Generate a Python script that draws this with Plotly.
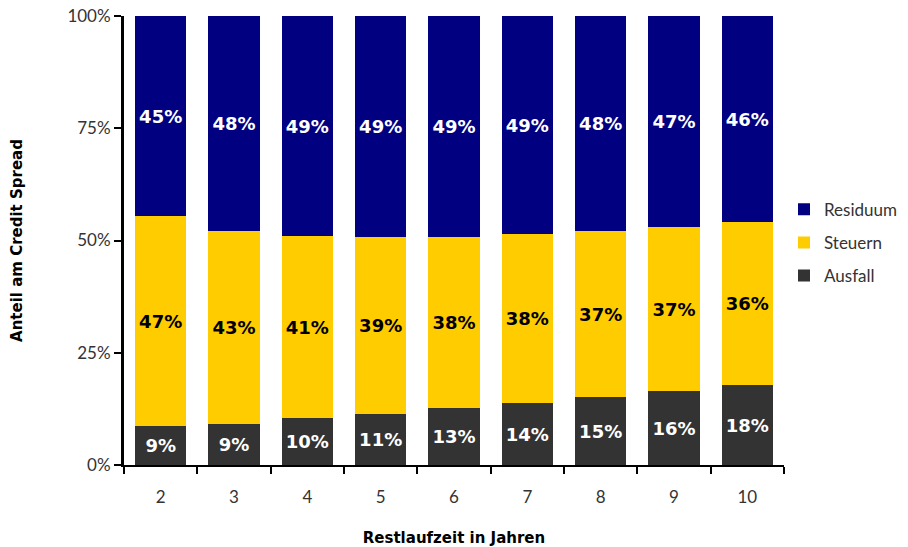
import plotly.graph_objects as go

categories = ["2", "3", "4", "5", "6", "7", "8", "9", "10"]
ausfall = [8.6, 9.2, 10.4, 11.4, 12.7, 13.8, 15.1, 16.4, 17.8]
steuern = [46.8, 42.9, 40.6, 39.4, 38.1, 37.6, 37.0, 36.6, 36.3]
residuum = [44.6, 47.9, 49.0, 49.2, 49.2, 48.6, 47.9, 47.0, 45.9]
y_ticks = [0, 25, 50, 75, 100]
y_tick_labels = ["0%", "25%", "50%", "75%", "100%"]

label_font = "DejaVu Sans"
series = [
    ("Ausfall", ausfall, "#333333", "white", 3),
    ("Steuern", steuern, "#FFCC00", "black", 2),
    ("Residuum", residuum, "#000080", "white", 1),
]

fig = go.Figure()
for name, vals, color, tcolor, rank in series:
    fig.add_trace(go.Bar(
        name=name, x=categories, y=vals, legendgroup=name, legendrank=rank,
        marker=dict(color=color, line=dict(width=0)),
        texttemplate="%{y:.0f}%", textposition="inside",
        insidetextanchor="middle",
        textfont=dict(family=label_font, size=18, color=tcolor, weight="bold"),
        hoverinfo="skip",
    ))

fig.update_layout(
    barmode="stack", bargap=0.3,
    width=908, height=547,
    margin=dict(l=124, r=124, t=16, b=82, autoexpand=False),
    plot_bgcolor="white", paper_bgcolor="white",
    font=dict(family="Lato", color="#333333"),
    legend=dict(
        traceorder="grouped", x=1.0, xanchor="left", y=0.495, yanchor="middle",
        font=dict(family="Lato", size=17, color="#333333"),
        itemwidth=30, tracegroupgap=8,
    ),
)
fig.update_xaxes(
    type="category", range=[-0.5, 8.5], automargin=False,
    showline=True, linecolor="black", linewidth=2,
    ticks="outside", tickson="boundaries", ticklen=7, tickwidth=2, tickcolor="black",
    tickfont=dict(family="Lato", size=17, color="#333333"),
    ticklabelstandoff=16,
    showgrid=False,
    title=dict(text="Restlaufzeit in Jahren", standoff=28,
               font=dict(family=label_font, size=15, color="black", weight="bold")),
)
fig.update_yaxes(
    range=[0, 100], tickvals=y_ticks, ticktext=y_tick_labels, automargin=False,
    showline=True, linecolor="black", linewidth=3,
    ticks="outside", ticklen=7, tickwidth=2, tickcolor="black",
    tickfont=dict(family="Lato", size=17, color="#333333"),
    showgrid=False, zeroline=False,
    title=dict(text="Anteil am Credit Spread", standoff=42,
               font=dict(family=label_font, size=15, color="black", weight="bold")),
)

fig.write_html("out.html")
